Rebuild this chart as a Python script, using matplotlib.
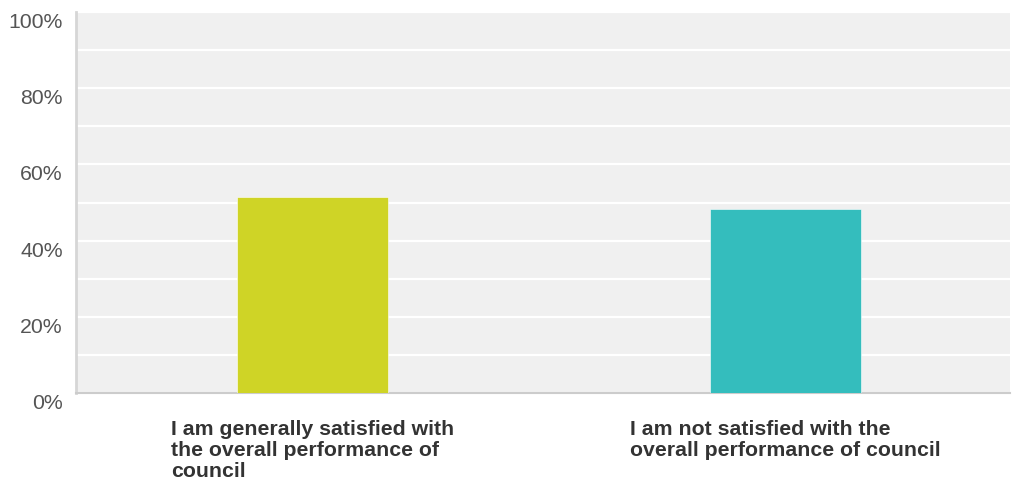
import matplotlib.pyplot as plt
from matplotlib.ticker import MultipleLocator, FuncFormatter

categories = [
    "I am generally satisfied with\nthe overall performance of\ncouncil",
    "I am not satisfied with the\noverall performance of council",
]
values = [51.4, 48.4]
colors = ["#cfd426", "#34bdbd"]

plt.rcParams["font.family"] = ["Liberation Sans", "DejaVu Sans"]

fig = plt.figure(figsize=(10.13, 4.81), dpi=100)
ax = fig.add_axes([76 / 1013, 87 / 481, 934 / 1013, 381 / 481])
ax.set_facecolor("#f0f0f0")

x = range(len(categories))
ax.bar(x, values, width=0.32, color=colors, edgecolor="#ffffff", linewidth=0.4, zorder=3)

ax.set_xlim(-0.5, 1.475)
ax.set_ylim(0, 100)
ax.yaxis.set_major_locator(MultipleLocator(20))
ax.yaxis.set_minor_locator(MultipleLocator(10))
ax.yaxis.set_major_formatter(FuncFormatter(lambda v, p: f"{v:.0f}%"))
ax.grid(True, axis="y", which="both", color="white", linewidth=1.6, zorder=1)
ax.set_axisbelow(True)

ax.tick_params(axis="y", which="both", length=0, pad=9.5, labelsize=15.3, labelcolor="#555555")
for t in ax.get_yticklabels():
    t.set_va("top")

ax.set_xticks(list(x))
ax.set_xticklabels(categories, fontsize=15.3, fontweight="bold", color="#333333",
                   multialignment="left", linespacing=1.12)
ax.tick_params(axis="x", length=0, pad=19)

for side in ["top", "right"]:
    ax.spines[side].set_visible(False)
ax.spines["left"].set_color("#d6d6d6")
ax.spines["left"].set_linewidth(2)
ax.spines["bottom"].set_color("#cccccc")
ax.spines["bottom"].set_linewidth(1.5)

fig.savefig("out.png", dpi=100)
